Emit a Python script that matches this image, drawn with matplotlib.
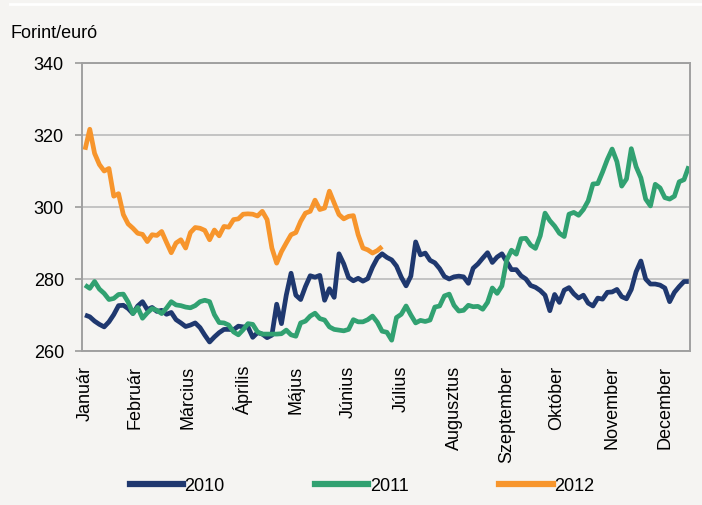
import numpy as np
import matplotlib
matplotlib.use("Agg")
import matplotlib.pyplot as plt
from matplotlib import font_manager
from matplotlib.lines import Line2D

# ---- data (EUR/HUF, every 2nd trading day) ----
rate_2010 = [270.0, 269.5, 268.3, 267.4, 266.7, 268.1, 270.1, 272.6, 272.7, 271.8,
             270.4, 272.5, 273.7, 271.5, 272.1, 271.0, 271.3, 270.2, 270.7, 268.7,
             267.8, 266.8, 267.2, 267.8, 266.5, 264.4, 262.5, 263.9, 265.1, 266.0,
             266.0, 265.9, 266.9, 266.7, 266.7, 263.8, 265.1, 264.7, 263.7, 264.4,
             273.0, 267.6, 275.5, 281.6, 275.5, 274.3, 277.9, 280.9, 280.5, 281.0,
             274.1, 277.3, 274.9, 287.0, 284.2, 280.4, 279.5, 280.2, 279.4, 280.1,
             283.3, 285.8, 287.0,
             286.0, 285.3, 283.6, 280.5, 278.1, 280.8, 290.3, 286.7, 287.2, 285.2,
             284.5, 282.9, 280.7, 280.0, 280.6, 280.8, 280.6, 278.8, 283.0, 284.2,
             285.8, 287.3, 284.6, 286.1, 287.0, 284.8, 282.6, 282.6, 280.9, 280.0,
             278.2, 277.7, 276.8, 275.5, 271.2, 275.7, 273.5, 276.9, 277.6, 275.9,
             274.7, 275.5, 273.3, 272.5, 274.7, 274.4, 276.3, 276.4, 277.1, 275.1,
             274.5, 277.1, 282.0, 285.0, 280.0, 278.6, 278.6, 278.3, 277.5, 273.7,
             276.3, 277.9, 279.3, 279.3]

rate_2011 = [278.3, 277.4, 279.3, 277.2, 276.0, 274.3, 274.6, 275.7, 275.8, 273.6,
             270.4, 272.1, 269.1, 270.6, 271.8, 271.3, 270.4, 271.9, 273.7, 272.8,
             272.6, 272.2, 272.0, 272.6, 273.7, 274.1, 273.7, 270.1, 267.9, 267.8,
             267.2, 265.3, 264.5, 265.9, 267.6, 267.4, 265.3, 264.7, 264.7, 264.7,
             264.7, 264.8, 265.8, 264.5, 264.1, 267.8, 268.3, 269.7, 270.5, 269.0,
             268.6, 266.7, 266.0, 265.8, 265.6, 266.0, 268.7, 268.1, 268.1, 268.7,
             269.7, 268.0, 265.5,
             265.2, 263.0, 269.3, 270.2, 272.5, 270.0, 267.8, 268.5, 268.2, 268.6,
             272.2, 272.5, 275.3, 275.8, 272.7, 271.1, 271.3, 272.7, 272.3, 272.4,
             271.6, 273.5, 277.5, 276.0, 278.1, 285.3, 288.0, 286.9, 291.2, 291.3,
             289.4, 288.5, 292.0, 298.3, 296.2, 294.7, 292.7, 291.8, 298.0, 298.5,
             297.7, 299.3, 301.7, 306.4, 306.5, 309.7, 313.2, 316.1, 312.6, 305.8,
             307.8, 316.2, 311.2, 308.1, 302.2, 300.3, 306.3, 305.3, 302.6, 302.2,
             303.0, 307.0, 307.6, 311.3]

rate_2012 = [315.9, 321.6, 314.9, 311.8, 310.0, 310.7, 303.0, 303.7, 297.9, 295.3,
             294.1, 292.7, 292.4, 290.4, 292.3, 292.1, 293.2, 290.2, 287.3, 290.0,
             290.9, 288.6, 292.9, 294.3, 294.1, 293.5, 290.9, 293.6, 292.0, 294.6,
             294.4, 296.5, 296.7, 298.0, 298.1, 298.0, 297.5, 298.8, 296.5, 288.6,
             284.4, 287.6, 290.0, 292.3, 292.9, 296.0, 298.3, 298.8, 301.9, 299.3,
             299.7, 304.4, 301.1, 297.9, 296.7, 297.4, 297.6, 292.3, 288.6, 288.1,
             287.2, 287.9, 289.0]

years = ["2010", "2011", "2012"]
months = ["Január", "Február", "Március", "Április", "Május", "Június",
          "Július", "Augusztus", "Szeptember", "Október", "November", "December"]
month_start_day = [0, 21, 43, 66, 88, 110, 132, 154, 176, 197, 220, 242]
y_ticks = [260, 280, 300, 320, 340]

# ---- styling ----
names = {f.name for f in font_manager.fontManager.ttflist}
FONT = "Liberation Sans Narrow" if "Liberation Sans Narrow" in names else "Liberation Sans"
FS = 15 if FONT == "Liberation Sans Narrow" else 13
plt.rcParams["font.family"] = [FONT, "DejaVu Sans"]

BG = "#f5f4f2"
colors = ["#1f386f", "#31a171", "#f7952c"]

fig = plt.figure(figsize=(7.02, 5.06), dpi=100, facecolor=BG)
ax = fig.add_axes([82 / 702, 1 - 352 / 506, 608 / 702, 288 / 506])
ax.set_facecolor(BG)

for rates, c, lab in zip([rate_2010, rate_2011, rate_2012], colors, years):
    x = np.arange(0, 2 * len(rates), 2)
    ax.plot(x, rates, color=c, lw=3.4, label=lab, solid_joinstyle="round",
            solid_capstyle="butt")

ax.set_xlim(-1.25, 252.5)
ax.set_ylim(260, 340)
ax.set_yticks(y_ticks)
ax.set_yticklabels([str(v) for v in y_ticks], fontsize=FS)
ax.set_xticks(month_start_day)
ax.set_xticklabels(months, rotation=90, fontsize=FS, ha="center", va="top")
ax.tick_params(axis="x", length=0, pad=10)
ax.tick_params(axis="y", length=5, width=1.2, color="#9a9a9a", pad=8)
ax.yaxis.grid(True, color="#c3c3c3", lw=1.4)
ax.set_axisbelow(True)
for s in ax.spines.values():
    s.set_color("#a0a0a0")
    s.set_linewidth(1.4)

fig.text(10 / 702, 1 - 33 / 506, "Forint/euró", fontsize=FS, ha="left", va="center")

handles = [Line2D([], [], color=c, lw=4.5) for c in colors]
fig.legend(handles, years, loc="center", bbox_to_anchor=(362 / 702, 1 - 487 / 506),
           ncol=3, frameon=False, fontsize=FS, handlelength=2.95, handletextpad=0.1,
           columnspacing=5.0)

fig.add_artist(Line2D([10 / 702, 1], [1 - 5 / 506, 1 - 5 / 506], color="white", lw=2))

fig.savefig("out.png", dpi=100, facecolor=BG)
